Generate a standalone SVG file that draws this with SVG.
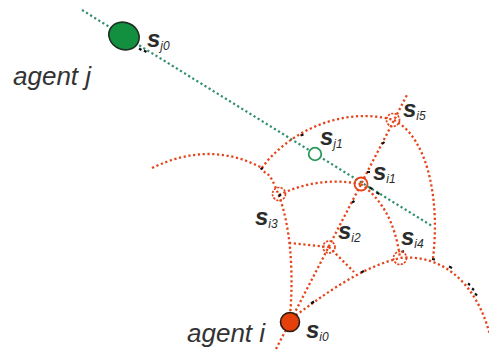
<svg xmlns="http://www.w3.org/2000/svg" width="489" height="352" viewBox="0 0 489 352">
<style>
.rd{fill:none;stroke:#e5441b;stroke-width:2.3;stroke-dasharray:2.2 2.6}
.gd{fill:none;stroke:#2f8f6c;stroke-width:2.2;stroke-dasharray:2.2 2.6}
.tick{stroke:#111;stroke-width:2.2;fill:none}
.sc{fill:none;stroke:#e5441b;stroke-width:1.7;stroke-dasharray:2.2 1.3}
.lbl{font-family:"Liberation Sans",Arial,sans-serif;fill:#2b2b2b}
.s{font-size:24px;font-weight:bold;font-style:italic}
.sub{font-size:12px;font-style:italic}
.ag{font-family:"Liberation Sans",Arial,sans-serif;font-size:26px;font-style:italic;fill:#333}
</style>
<rect width="489" height="352" fill="#fff"/>
<g id="connectors">
<path class="gd" d="M82,10 L432,226"/>
<path class="rd" d="M276,349 L408,93"/>
<path class="rd" d="M152,168 Q210,140 262,168"/>
<path class="rd" d="M290,316 C294,270 290,225 279,196 S268,178 261,168"/>
<path class="rd" d="M262,168 C285,135 340,105 394,120"/>
<path class="rd" d="M394,120 C428,138 440,200 433,258"/>
<path class="rd" d="M279,195 Q318,176 361,184"/>
<path class="rd" d="M289,243 L329,247"/>
<path class="rd" d="M329,247 L354,272"/>
<path class="rd" d="M361,184 C380,198 395,220 400,258"/>
<path class="rd" d="M292,318 C320,298 358,268 400,258 C438,254 475,278 490,335"/>
</g>
<g id="ticks">
<path class="tick" d="M139,48.5 L141.5,50 M144,50.5 L146.5,52 M300.5,135.5 L303.5,134.5 M260.5,169 L263,168 M278.5,196 L281,194.5 M367,172 L370,172 M382,144 L384.5,142 M352,202.5 L354.5,201 M369.5,187.5 L372.5,189 M376.5,192.5 L379.5,194 M401.5,252 L404,251 M432,259 L435,259.5 M449,266.5 L452,268 M468,283.5 L470,285 M472,288.5 L474,290 M475,293.5 L477,295.5 M311,303.5 L314,301.5 M361,272.5 L364,271"/>
</g>
<g id="agent-j">
<ellipse cx="124" cy="36" rx="15.5" ry="13.5" transform="rotate(25 124 36)" fill="#129040" stroke="#1d2e22" stroke-width="1.6"/>
<text class="ag" x="13" y="85">agent j</text>
<text class="lbl" x="147" y="47"><tspan class="s">s</tspan><tspan class="sub" dy="3">j0</tspan></text>
</g>
<g id="s_j1">
<circle cx="315" cy="154" r="6.3" fill="#fff" stroke="#2a9a5a" stroke-width="1.8"/>
<text class="lbl" x="320" y="145"><tspan class="s">s</tspan><tspan class="sub" dy="3">j1</tspan></text>
</g>
<g id="agent-i">
<circle cx="290" cy="322" r="9.5" fill="#e5400c" stroke="#2a1a12" stroke-width="1.6"/>
<text class="ag" x="187" y="342">agent i</text>
<text class="lbl" x="306" y="338"><tspan class="s">s</tspan><tspan class="sub" dy="3">i0</tspan></text>
</g>
<g id="s_i1">
<circle cx="361" cy="184" r="6.5" fill="none" stroke="#e5441b" stroke-width="1.8"/>
<text class="lbl" x="373" y="180"><tspan class="s">s</tspan><tspan class="sub" dy="3">i1</tspan></text>
</g>
<g id="s_i2">
<circle class="sc" cx="329" cy="247" r="6"/>
<text class="lbl" x="338" y="239"><tspan class="s">s</tspan><tspan class="sub" dy="3">i2</tspan></text>
</g>
<g id="s_i3">
<circle class="sc" cx="279" cy="194" r="6.5"/>
<text class="lbl" x="255" y="225"><tspan class="s">s</tspan><tspan class="sub" dy="3">i3</tspan></text>
</g>
<g id="s_i4">
<circle class="sc" cx="400" cy="258" r="6.5"/>
<text class="lbl" x="401" y="245"><tspan class="s">s</tspan><tspan class="sub" dy="3">i4</tspan></text>
</g>
<g id="s_i5">
<circle class="sc" cx="393" cy="120" r="6.5"/>
<text class="lbl" x="403" y="117"><tspan class="s">s</tspan><tspan class="sub" dy="3">i5</tspan></text>
</g>
</svg>
